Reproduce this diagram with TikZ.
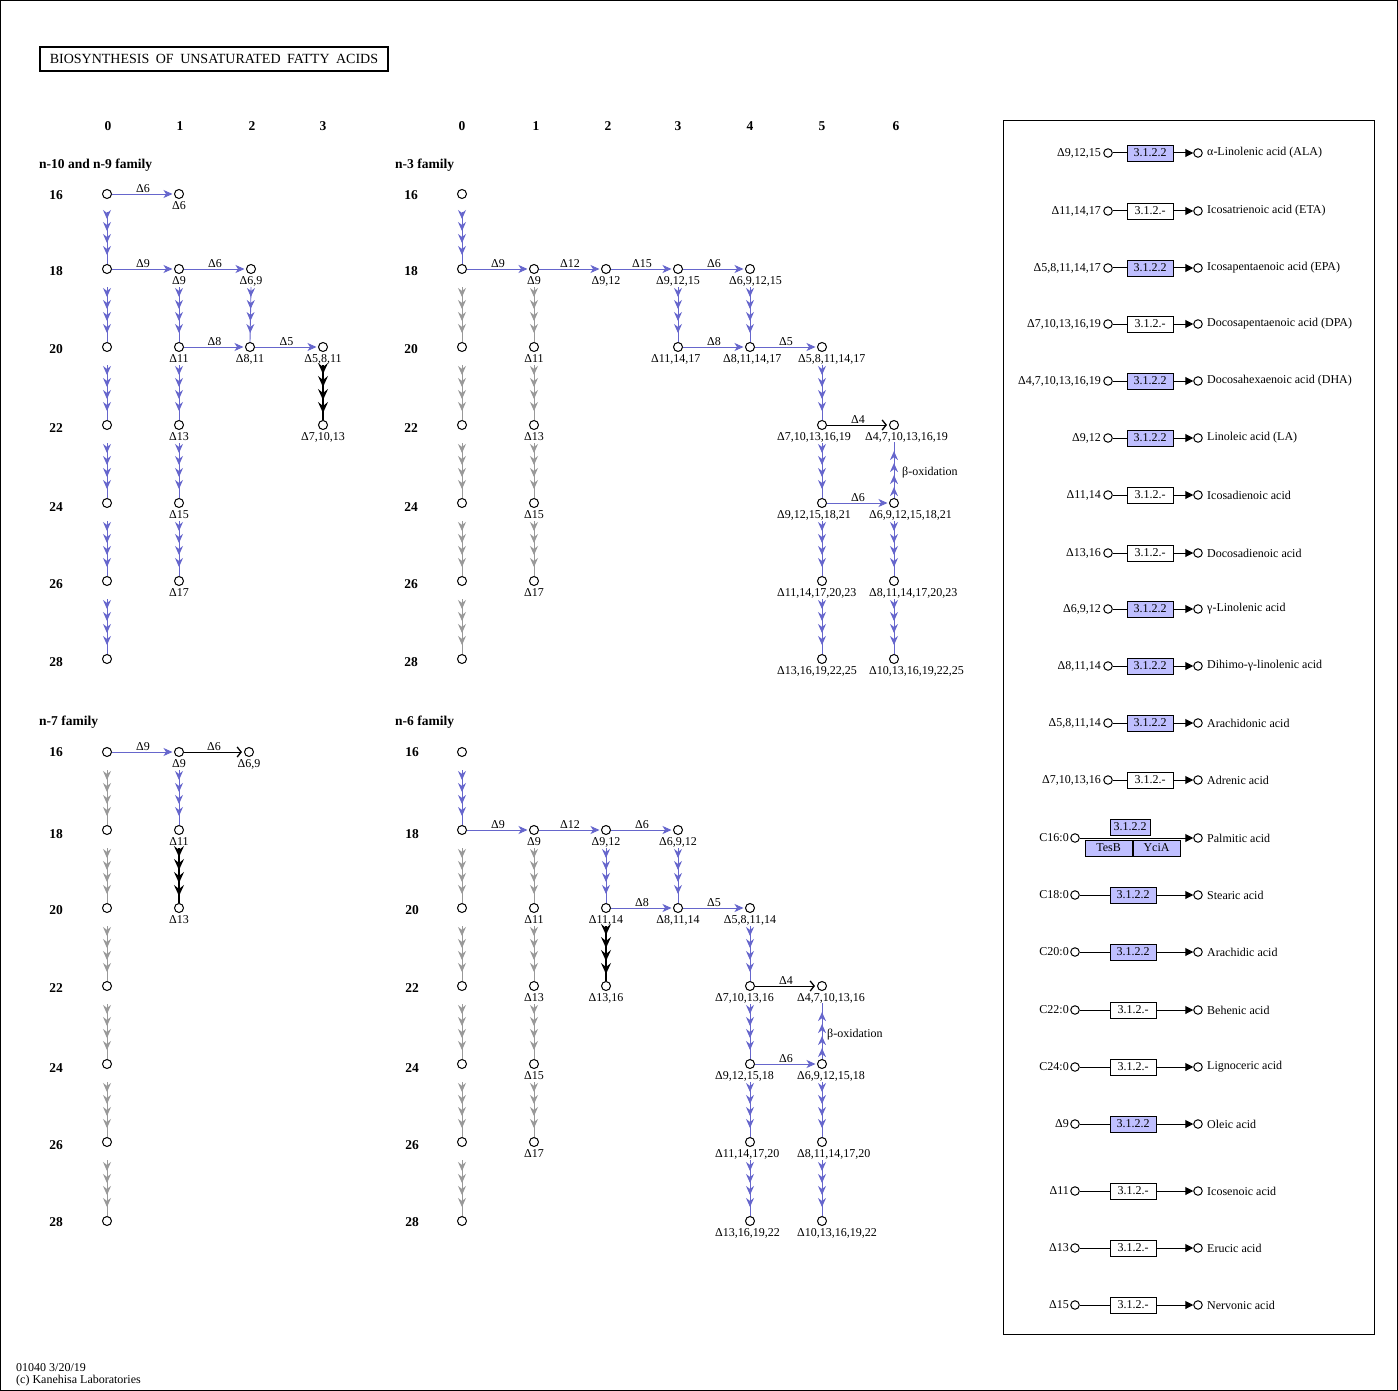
\documentclass[tikz,border=0pt]{standalone}
\usepackage{fontspec}
\setmainfont{Liberation Serif}
\usetikzlibrary{arrows.meta,decorations.markings}
\definecolor{kblue}{RGB}{102,102,204}
\definecolor{kgray}{RGB}{153,153,153}
\definecolor{kbox}{RGB}{191,191,255}
\newcommand\fs{\fontsize{12}{14}\selectfont}
\newcommand\fsb{\fontsize{13.5}{15}\selectfont\bfseries}
\newcommand\M[3]{\node[met] (#1) at (#2,#3) {};}
\newcommand\ML[4]{\node[met] (#1) at (#2,#3) {};\node[lab] (#1-l) at (#2,#3+12) {#4};}
\newcommand\MW[5]{\node[met] (#1) at (#2,#3) {};\node[lab,anchor=west] (#1-l) at (#4,#3+12) {#5};}
\newcommand\CH[3]{\draw[#1] ([yshift=-18pt]#2.center) -- (#3.north);}
\newcommand\RA[6]{%
 \node[rc] (#1a) at (1108,#2) {};
 \node[rl,anchor=east] (#1l) at (1101,#2) {#3};
 \node[rc] (#1b) at (1198,#2) {};
 \node[rl,anchor=west] (#1r) at (1207,#2) {#6};
 \draw[rarr] (#1a) -- (#1b);
 \node[ebox,fill=#4] (#1e) at (1150,#2) {#5};}
\newcommand\RB[6]{%
 \node[rc] (#1a) at (1075,#2) {};
 \node[rl,anchor=east] (#1l) at (1069,#2) {#3};
 \node[rc] (#1b) at (1198,#2) {};
 \node[rl,anchor=west] (#1r) at (1207,#2) {#6};
 \draw[rarr] (#1a) -- (#1b);
 \node[ebox,fill=#4] (#1e) at (1133,#2) {#5};}
\tikzset{
 met/.style={circle,draw=black,line width=1pt,fill=white,minimum size=9pt,inner sep=0pt},
 rc/.style={circle,draw=black,line width=1pt,fill=white,minimum size=8.5pt,inner sep=0pt},
 lab/.style={inner sep=0pt,font=\fs,text=black},
 rl/.style={inner sep=0pt,font=\fs,text=black},
 hdr/.style={inner sep=0pt,font=\fsb,text=black},
 elab/.style={above=1pt,inner sep=0pt,font=\fs,text=black},
 ebox/.style={draw=black,line width=0.8pt,minimum width=46pt,minimum height=16pt,inner sep=0pt,font=\fs},
 hb/.style={color=kblue,line width=0.9pt,-{Stealth[length=9pt,width=8pt,inset=2.5pt]},shorten >=1.5pt},
 hk/.style={color=black,line width=1pt,-{Straight Barb[length=4pt,width=10pt,line width=1.3pt]},shorten >=2pt},
 rarr/.style={color=black,line width=1pt,-{Triangle[length=8pt,width=8pt]}},
 vch/.style={color=#1,line width=0.9pt,postaction={decorate},
   decoration={markings,
     mark=at position -9pt with {\arrow{Stealth[length=9pt,width=8pt,inset=3pt]}},
     mark=at position -21pt with {\arrow{Stealth[length=9pt,width=8pt,inset=3pt]}},
     mark=at position -33pt with {\arrow{Stealth[length=9pt,width=8pt,inset=3pt]}},
     mark=at position -45pt with {\arrow{Stealth[length=9pt,width=8pt,inset=3pt]}}}},
 vchk/.style={color=black,line width=1.4pt,postaction={decorate},
   decoration={markings,
     mark=at position -7pt with {\arrow{Stealth[length=11pt,width=10pt,inset=4pt]}},
     mark=at position -20pt with {\arrow{Stealth[length=11pt,width=10pt,inset=4pt]}},
     mark=at position -33pt with {\arrow{Stealth[length=11pt,width=10pt,inset=4pt]}},
     mark=at position -46pt with {\arrow{Stealth[length=11pt,width=10pt,inset=4pt]}}}},
}
\begin{document}
\begin{tikzpicture}[x=1pt,y=-1pt]
\useasboundingbox (0,0) rectangle (1398,1391);
\draw[line width=1pt] (0.5,0.5) rectangle (1397.5,1390.5);
% title
\node[draw=black,line width=1.5pt,minimum width=348pt,minimum height=24pt,inner sep=0pt,font=\fontsize{14}{16}\selectfont] (title) at (214,59)
 {BIOSYNTHESIS\hspace{6.5pt}OF\hspace{6.5pt}UNSATURATED\hspace{6.5pt}FATTY\hspace{6.5pt}ACIDS};
% column headers
\foreach \i/\x in {0/108,1/180,2/252,3/323} {\node[hdr] (hA\i) at (\x,126) {\i};}
\foreach \i/\x in {0/462,1/536,2/608,3/678,4/750,5/822,6/896} {\node[hdr] (hB\i) at (\x,126) {\i};}
% family labels
\node[hdr,anchor=west] (famA) at (39,165) {n-10 and n-9 family};
\node[hdr,anchor=west] (famB) at (395,165) {n-3 family};
\node[hdr,anchor=west] (famC) at (39,722) {n-7 family};
\node[hdr,anchor=west] (famD) at (395,722) {n-6 family};
% row labels
\foreach \n/\y in {16/195,18/271,20/349,22/428,24/507,26/584,28/662} {
  \node[hdr] (rA\n) at (56,\y) {\n}; \node[hdr] (rB\n) at (411,\y) {\n};}
\foreach \n/\y in {16/752,18/834,20/910,22/988,24/1068,26/1145,28/1222} {
  \node[hdr] (rC\n) at (56,\y) {\n}; \node[hdr] (rD\n) at (412,\y) {\n};}

% ================= Panel A : n-10 and n-9 =================
\foreach \r/\y in {0/194,1/269,2/347,3/425,4/503,5/581,6/659} {\M{a0\r}{107}{\y}}
\ML{a10}{179}{194}{Δ6}
\ML{a11}{179}{269}{Δ9}
\ML{a21}{251}{269}{Δ6,9}
\ML{a12}{179}{347}{Δ11}
\ML{a22}{250}{347}{Δ8,11}
\ML{a32}{323}{347}{Δ5,8,11}
\ML{a13}{179}{425}{Δ13}
\ML{a33}{323}{425}{Δ7,10,13}
\ML{a14}{179}{503}{Δ15}
\ML{a15}{179}{581}{Δ17}
\draw[hb] (a00) -- node[elab]{Δ6} (a10);
\draw[hb] (a01) -- node[elab]{Δ9} (a11);
\draw[hb] (a11) -- node[elab]{Δ6} (a21);
\draw[hb] (a12) -- node[elab]{Δ8} (a22);
\draw[hb] (a22) -- node[elab]{Δ5} (a32);
\foreach \r/\s in {0/1,1/2,2/3,3/4,4/5,5/6} {\CH{vch=kblue}{a0\r}{a0\s}}
\foreach \r/\s in {1/2,2/3,3/4,4/5} {\CH{vch=kblue}{a1\r}{a1\s}}
\CH{vch=kblue}{a21}{a22}
\CH{vchk}{a32}{a33}

% ================= Panel B : n-3 =================
\foreach \r/\y in {0/194,1/269,2/347,3/425,4/503,5/581,6/659} {\M{b0\r}{462}{\y}}
\ML{b11}{534}{269}{Δ9}
\ML{b12}{534}{347}{Δ11}
\ML{b13}{534}{425}{Δ13}
\ML{b14}{534}{503}{Δ15}
\ML{b15}{534}{581}{Δ17}
\ML{b21}{606}{269}{Δ9,12}
\ML{b31}{678}{269}{Δ9,12,15}
\MW{b41}{750}{269}{729}{Δ6,9,12,15}
\MW{b32}{678}{347}{651}{Δ11,14,17}
\MW{b42}{750}{347}{723}{Δ8,11,14,17}
\MW{b52}{822}{347}{798}{Δ5,8,11,14,17}
\MW{b53}{822}{425}{777}{Δ7,10,13,16,19}
\MW{b63}{894}{425}{865}{Δ4,7,10,13,16,19}
\MW{b54}{822}{503}{777}{Δ9,12,15,18,21}
\MW{b64}{894}{503}{869}{Δ6,9,12,15,18,21}
\MW{b55}{822}{581}{777}{Δ11,14,17,20,23}
\MW{b65}{894}{581}{869}{Δ8,11,14,17,20,23}
\MW{b56}{822}{659}{777}{Δ13,16,19,22,25}
\MW{b66}{894}{659}{869}{Δ10,13,16,19,22,25}
\draw[hb] (b01) -- node[elab]{Δ9} (b11);
\draw[hb] (b11) -- node[elab]{Δ12} (b21);
\draw[hb] (b21) -- node[elab]{Δ15} (b31);
\draw[hb] (b31) -- node[elab]{Δ6} (b41);
\draw[hb] (b32) -- node[elab]{Δ8} (b42);
\draw[hb] (b42) -- node[elab]{Δ5} (b52);
\draw[hk] (b53) -- node[elab]{Δ4} (b63);
\draw[hb] (b54) -- node[elab]{Δ6} (b64);
\CH{vch=kblue}{b00}{b01}
\foreach \r/\s in {1/2,2/3,3/4,4/5,5/6} {\CH{vch=kgray}{b0\r}{b0\s}}
\foreach \r/\s in {1/2,2/3,3/4,4/5} {\CH{vch=kgray}{b1\r}{b1\s}}
\CH{vch=kblue}{b31}{b32}
\CH{vch=kblue}{b41}{b42}
\foreach \r/\s in {2/3,3/4,4/5,5/6} {\CH{vch=kblue}{b5\r}{b5\s}}
\CH{vch=kblue}{b64}{b65}
\CH{vch=kblue}{b65}{b66}
\draw[vch=kblue] (b64.north) -- (b63 |- b63-l.south);
\node[lab,anchor=west] (boxB) at (902,473) {β-oxidation};

% ================= Panel C : n-7 =================
\foreach \r/\y in {0/752,1/830,2/908,3/986,4/1064,5/1142,6/1221} {\M{c0\r}{107}{\y}}
\ML{c10}{179}{752}{Δ9}
\ML{c20}{249}{752}{Δ6,9}
\ML{c11}{179}{830}{Δ11}
\ML{c12}{179}{908}{Δ13}
\draw[hb] (c00) -- node[elab]{Δ9} (c10);
\draw[hk] (c10) -- node[elab]{Δ6} (c20);
\foreach \r/\s in {0/1,1/2,2/3,3/4,4/5,5/6} {\CH{vch=kgray}{c0\r}{c0\s}}
\CH{vch=kblue}{c10}{c11}
\CH{vchk}{c11}{c12}

% ================= Panel D : n-6 =================
\foreach \r/\y in {0/752,1/830,2/908,3/986,4/1064,5/1142,6/1221} {\M{d0\r}{462}{\y}}
\ML{d11}{534}{830}{Δ9}
\ML{d12}{534}{908}{Δ11}
\ML{d13}{534}{986}{Δ13}
\ML{d14}{534}{1064}{Δ15}
\ML{d15}{534}{1142}{Δ17}
\ML{d21}{606}{830}{Δ9,12}
\ML{d31}{678}{830}{Δ6,9,12}
\ML{d22}{606}{908}{Δ11,14}
\ML{d32}{678}{908}{Δ8,11,14}
\ML{d42}{750}{908}{Δ5,8,11,14}
\ML{d23}{606}{986}{Δ13,16}
\MW{d43}{750}{986}{715}{Δ7,10,13,16}
\MW{d53}{822}{986}{797}{Δ4,7,10,13,16}
\MW{d44}{750}{1064}{715}{Δ9,12,15,18}
\MW{d54}{822}{1064}{797}{Δ6,9,12,15,18}
\MW{d45}{750}{1142}{715}{Δ11,14,17,20}
\MW{d55}{822}{1142}{797}{Δ8,11,14,17,20}
\MW{d46}{750}{1221}{715}{Δ13,16,19,22}
\MW{d56}{822}{1221}{797}{Δ10,13,16,19,22}
\draw[hb] (d01) -- node[elab]{Δ9} (d11);
\draw[hb] (d11) -- node[elab]{Δ12} (d21);
\draw[hb] (d21) -- node[elab]{Δ6} (d31);
\draw[hb] (d22) -- node[elab]{Δ8} (d32);
\draw[hb] (d32) -- node[elab]{Δ5} (d42);
\draw[hk] (d43) -- node[elab]{Δ4} (d53);
\draw[hb] (d44) -- node[elab]{Δ6} (d54);
\CH{vch=kblue}{d00}{d01}
\foreach \r/\s in {1/2,2/3,3/4,4/5,5/6} {\CH{vch=kgray}{d0\r}{d0\s}}
\foreach \r/\s in {1/2,2/3,3/4,4/5} {\CH{vch=kgray}{d1\r}{d1\s}}
\CH{vch=kblue}{d21}{d22}
\CH{vch=kblue}{d31}{d32}
\CH{vchk}{d22}{d23}
\foreach \r/\s in {2/3,3/4,4/5,5/6} {\CH{vch=kblue}{d4\r}{d4\s}}
\CH{vch=kblue}{d54}{d55}
\CH{vch=kblue}{d55}{d56}
\draw[vch=kblue] (d54.north) -- (d53 |- d53-l.south);
\node[lab,anchor=west] (boxD) at (827,1035) {β-oxidation};

% ================= Right panel =================
\draw[line width=1pt] (1003.5,120.5) rectangle (1374.5,1334.5);
\RA{p1}{153}{Δ9,12,15}{kbox}{3.1.2.2}{α-Linolenic acid (ALA)}
\RA{p2}{211}{Δ11,14,17}{white}{3.1.2.-}{Icosatrienoic acid (ETA)}
\RA{p3}{268}{Δ5,8,11,14,17}{kbox}{3.1.2.2}{Icosapentaenoic acid (EPA)}
\RA{p4}{324}{Δ7,10,13,16,19}{white}{3.1.2.-}{Docosapentaenoic acid (DPA)}
\RA{p5}{381}{Δ4,7,10,13,16,19}{kbox}{3.1.2.2}{Docosahexaenoic acid (DHA)}
\RA{p6}{438}{Δ9,12}{kbox}{3.1.2.2}{Linoleic acid (LA)}
\RA{p7}{495}{Δ11,14}{white}{3.1.2.-}{Icosadienoic acid}
\RA{p8}{553}{Δ13,16}{white}{3.1.2.-}{Docosadienoic acid}
\RA{p9}{609}{Δ6,9,12}{kbox}{3.1.2.2}{γ-Linolenic acid}
\RA{p10}{666}{Δ8,11,14}{kbox}{3.1.2.2}{Dihimo-γ-linolenic acid}
\RA{p11}{723}{Δ5,8,11,14}{kbox}{3.1.2.2}{Arachidonic acid}
\RA{p12}{780}{Δ7,10,13,16}{white}{3.1.2.-}{Adrenic acid}
% palmitic
\node[rc] (p13a) at (1075,838) {};
\node[rl,anchor=east] (p13l) at (1069,838) {C16:0};
\node[rc] (p13b) at (1198,838) {};
\node[rl,anchor=west] (p13r) at (1207,838) {Palmitic acid};
\draw[rarr] (p13a) -- (p13b);
\node[ebox,fill=kbox,minimum width=40pt] (p13e) at (1130,827) {3.1.2.2};
\node[ebox,fill=kbox,minimum width=47pt] (p13t) at (1108.5,848) {TesB};
\node[ebox,fill=kbox,minimum width=47pt] (p13y) at (1156.5,848) {YciA};
\RB{p14}{895}{C18:0}{kbox}{3.1.2.2}{Stearic acid}
\RB{p15}{952}{C20:0}{kbox}{3.1.2.2}{Arachidic acid}
\RB{p16}{1010}{C22:0}{white}{3.1.2.-}{Behenic acid}
\RB{p17}{1067}{C24:0}{white}{3.1.2.-}{Lignoceric acid}
\RB{p18}{1124}{Δ9}{kbox}{3.1.2.2}{Oleic acid}
\RB{p19}{1191}{Δ11}{white}{3.1.2.-}{Icosenoic acid}
\RB{p20}{1248}{Δ13}{white}{3.1.2.-}{Erucic acid}
\RB{p21}{1305}{Δ15}{white}{3.1.2.-}{Nervonic acid}

% footer
\node[inner sep=0pt,anchor=north west,align=left,font=\fontsize{12}{12}\selectfont] (foot) at (16,1363)
 {01040 3/20/19\\(c) Kanehisa Laboratories};
\end{tikzpicture}
\end{document}
